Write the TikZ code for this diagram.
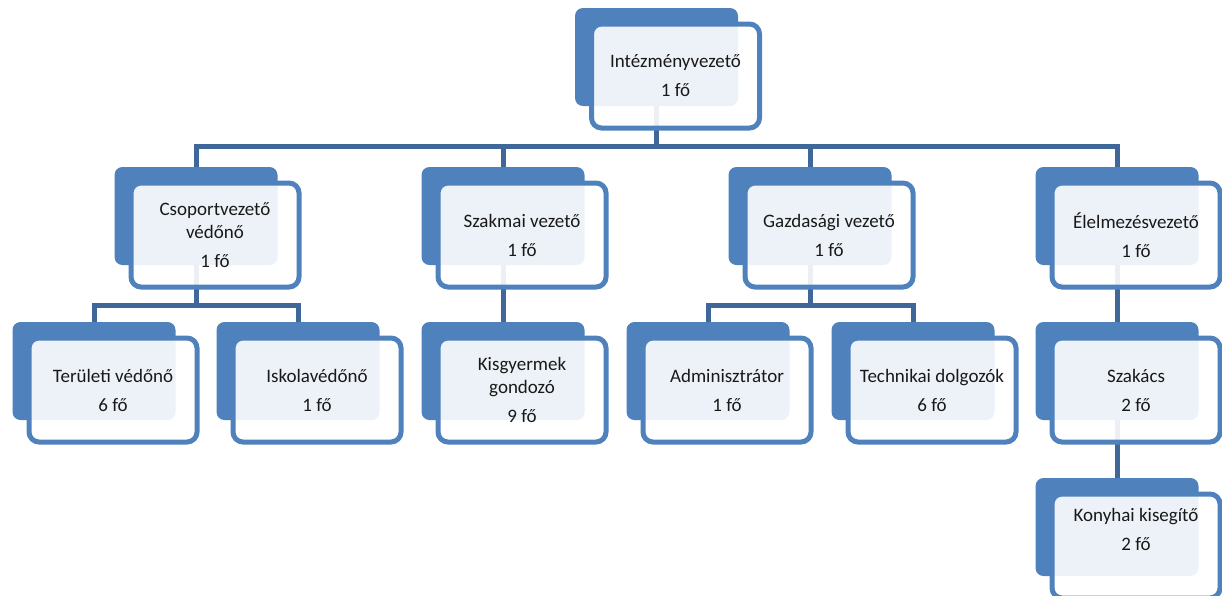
\documentclass[tikz,border=0pt]{standalone}
\usepackage{fontspec}
\setmainfont{Carlito}
\usetikzlibrary{backgrounds}
\definecolor{boxblue}{RGB}{79,129,189}
\definecolor{linkblue}{RGB}{64,103,154}
\tikzset{
  back box/.style={fill=boxblue, rounded corners=8pt, minimum width=163pt, minimum height=98pt, inner sep=0pt},
  front box/.style={draw=boxblue, line width=5pt, fill=white, fill opacity=0.9, rounded corners=10pt, minimum width=168pt, minimum height=104pt, inner sep=0pt},
  box text/.style={align=center, inner sep=0pt, text=black!90, font=\fontsize{19}{23}\selectfont},
  link/.style={draw=linkblue, line width=5pt},
}
\newcommand{\orgbox}[5][0]{%
  \node[back box] (#2-b) at (#3,#4) {};
  \node[front box] (#2) at (#3+19,#4+19) {};
  \node[box text] (#2-t) at ([yshift=#1pt]#2.center) {#5};
}

\begin{document}
\begin{tikzpicture}[x=1pt,y=-1pt]
\useasboundingbox (0,0) rectangle (1222,595);

% Boxes
\orgbox{intez}{656.5}{57}{Intézményvezető\\[6pt]1 fő}
\orgbox{csop}{196}{216}{Csoportvezető\\védőnő\\[6pt]1 fő}
\orgbox{szakm}{503}{216}{Szakmai vezető\\[6pt]1 fő}
\orgbox{gazd}{810}{216}{Gazdasági vezető\\[6pt]1 fő}
\orgbox{elelm}{1117}{216}{Élelmezésvezető\\[6pt]1 fő}
\orgbox{terul}{94}{371}{Területi védőnő\\[6pt]6 fő}
\orgbox{iskola}{298}{371}{Iskolavédőnő\\[6pt]1 fő}
\orgbox{kisgy}{503}{371}{Kisgyermek\\gondozó\\[6pt]9 fő}
\orgbox{admin}{708}{371}{Adminisztrátor\\[6pt]1 fő}
\orgbox{techn}{913}{371}{Technikai dolgozók\\[6pt]6 fő}
\orgbox{szakacs}{1117}{371}{Szakács\\[6pt]2 fő}
\orgbox[17]{konyha}{1117}{527}{Konyhai kisegítő\\[6pt]2 fő}

% Bus lines
\coordinate (bus top) at (0,146);
\coordinate (bus low) at (0,305);

% Links
\begin{scope}[on background layer]
  \foreach \child in {csop,szakm,gazd,elelm}
    \draw[link] (intez-b) -- (intez-b |- bus top) -| (\child-b.north);
  \foreach \child in {terul,iskola}
    \draw[link] (csop-b) -- (csop-b |- bus low) -| (\child-b.north);
  \foreach \child in {admin,techn}
    \draw[link] (gazd-b) -- (gazd-b |- bus low) -| (\child-b.north);
  \draw[link] (szakm-b) -- (kisgy-b);
  \draw[link] (elelm-b) -- (szakacs-b);
  \draw[link] (szakacs-b) -- (konyha-b);
\end{scope}
\end{tikzpicture}
\end{document}
